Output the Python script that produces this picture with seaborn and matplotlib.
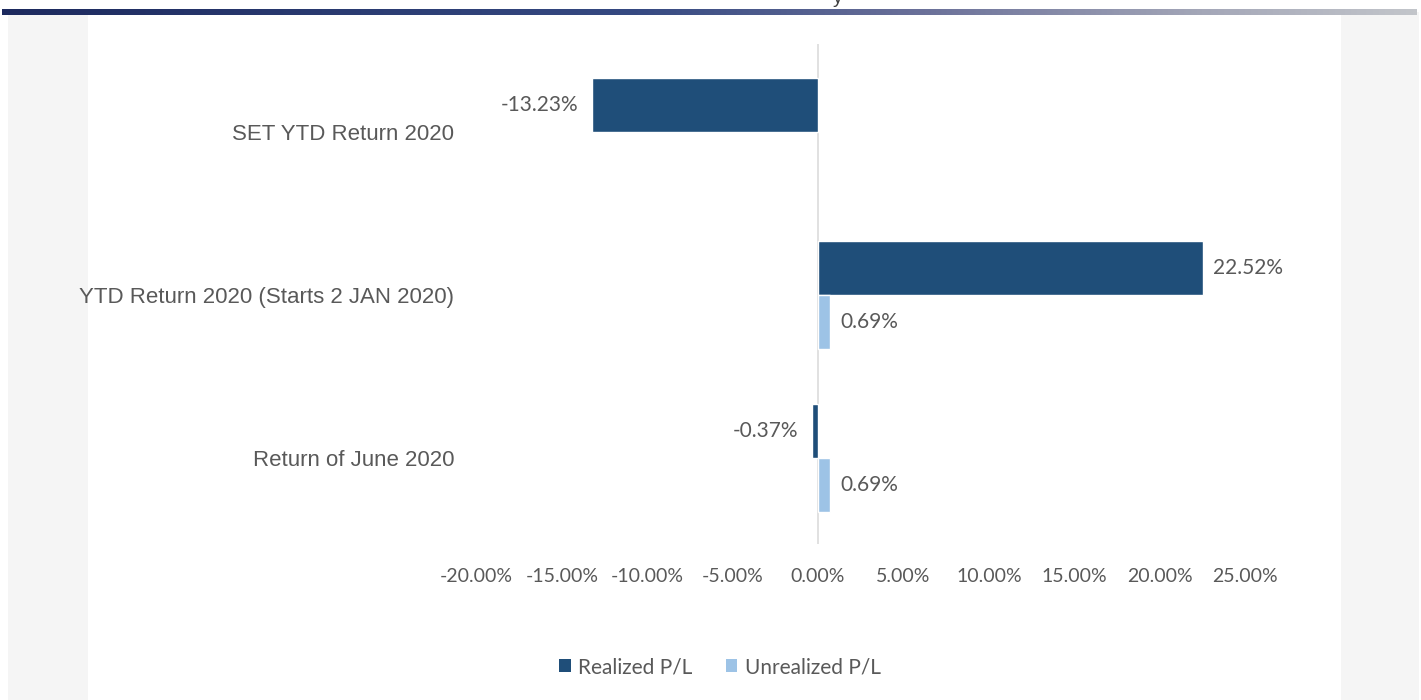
import numpy as np
import pandas as pd
import matplotlib
matplotlib.use("Agg")
import matplotlib.pyplot as plt
import seaborn as sns
from matplotlib.colors import LinearSegmentedColormap
from matplotlib.patches import Rectangle, Patch

# ---------------- data ----------------
categories = ["SET YTD Return 2020", "YTD Return 2020 (Starts 2 JAN 2020)", "Return of June 2020"]
series = ["Realized P/L", "Unrealized P/L"]
realized = [-13.23, 22.52, -0.37]
unrealized = [np.nan, 0.69, 0.69]
xticks = [-20, -15, -10, -5, 0, 5, 10, 15, 20, 25]
colors = ["#1f4e79", "#9dc3e6"]

df = pd.DataFrame({
    "category": categories * 2,
    "series": [series[0]] * len(categories) + [series[1]] * len(categories),
    "value": realized + unrealized,
})

sns.set_theme(style="white")
plt.rcParams["font.family"] = ["Liberation Sans", "DejaVu Sans"]

W, H = 1421, 700
fig = plt.figure(figsize=(W / 100, H / 100), dpi=100)
fig.patch.set_facecolor("white")

# side panels
fig.add_artist(Rectangle((8 / W, 0), 80 / W, 685 / H, transform=fig.transFigure,
                         facecolor="#f5f5f5", edgecolor="none", zorder=0))
fig.add_artist(Rectangle((1341 / W, 0), 78 / W, 688 / H, transform=fig.transFigure,
                         facecolor="#f5f5f5", edgecolor="none", zorder=0))

# top gradient band
cmap = LinearSegmentedColormap.from_list(
    "band", [(0, "#1d2a5e"), (0.45, "#364a82"), (0.65, "#6a7099"), (0.85, "#a4a7b8"), (1, "#c2c5ca")])
gax = fig.add_axes([2 / W, 1 - 15 / H, 1415 / W, 6 / H])
gax.imshow(np.linspace(0, 1, 512)[None, :], aspect="auto", cmap=cmap)
gax.axis("off")

# cut-off title fragment at top (as in the reference)
fig.text(838 / W, 1 - 3 / H, "y", fontsize=14, color="#404040", ha="center", va="baseline")

# main axes
ax = fig.add_axes([476.4 / W, 1 - 544 / H, 768.6 / W, 500 / H])
sns.barplot(data=df, y="category", x="value", hue="series", order=categories,
            hue_order=series, palette=colors, orient="h", width=0.663,
            errorbar=None, legend=False, ax=ax, saturation=1, zorder=3)

ax.set_xlim(-20, 25)
ax.set_ylim(2.528, -0.54)
ax.axvline(0, color="#dcdcdc", lw=1.2, zorder=1)
for s in ax.spines.values():
    s.set_visible(False)
ax.set_xlabel("")
ax.set_ylabel("")
ax.set_xticks(xticks)
ax.set_xticklabels([f"{v:.2f}%" for v in xticks], fontfamily="Lato", fontsize=14, color="#595959")
ax.tick_params(axis="x", length=0, pad=17)
ax.tick_params(axis="y", length=0, pad=16, labelsize=16, labelcolor="#595959")
ax.grid(False)

# data labels from drawn bars
for cont in ax.containers:
    for p in cont:
        x0, w = p.get_x(), p.get_width()
        v = x0 if x0 < 0 else x0 + w
        if not (np.isfinite(v) and np.isfinite(p.get_y()) and np.isfinite(w)):
            continue
        yc = p.get_y() + p.get_height() / 2
        if v < 0:
            ax.annotate(f"{v:.2f}%", (v, yc), xytext=(-10, 0), textcoords="offset points",
                        ha="right", va="center", fontsize=15, fontfamily="Lato", color="#595959")
        else:
            ax.annotate(f"{v:.2f}%", (v, yc), xytext=(7.5, 0), textcoords="offset points",
                        ha="left", va="center", fontsize=15, fontfamily="Lato", color="#595959")

handles = [Patch(facecolor=c, edgecolor="none") for c in colors]
fig.legend(handles, series, loc="center", bbox_to_anchor=(720 / W, 1 - 667 / H), ncol=2,
           frameon=False, handlelength=0.55, handleheight=0.55, handletextpad=0.35,
           columnspacing=1.6, prop={"family": "Lato", "size": 15}, labelcolor="#595959")

fig.savefig("out.png", dpi=100, facecolor="white")
